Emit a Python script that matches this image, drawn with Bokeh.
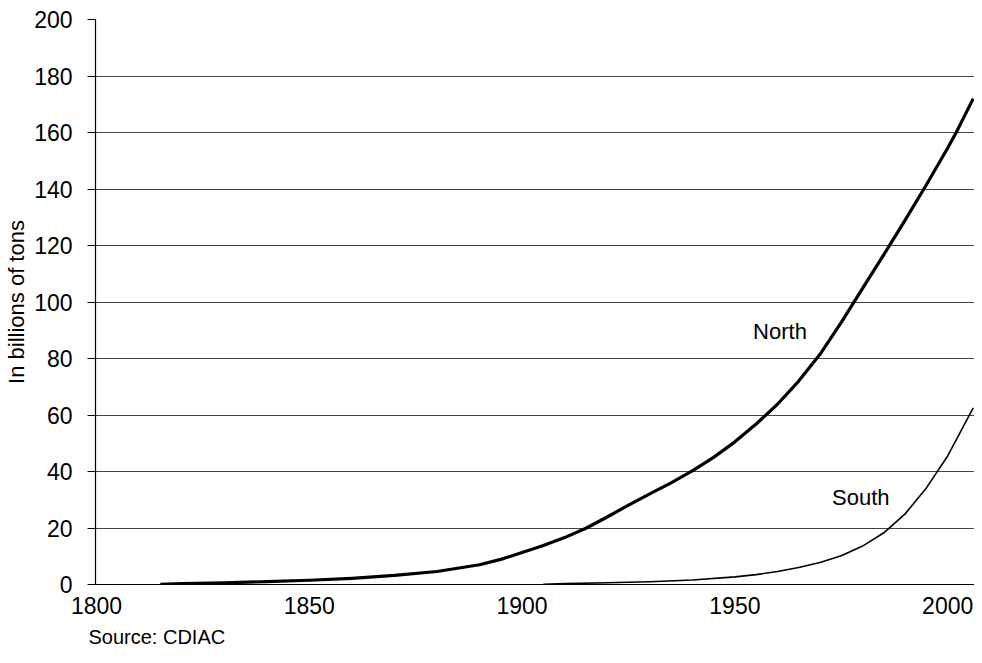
from bokeh.plotting import figure
from bokeh.models import FixedTicker, Label, Range1d, Title
from bokeh.embed import file_html
from bokeh.resources import INLINE

# ---- data ----
north_years = [1815, 1820, 1830, 1840, 1850, 1860, 1870, 1880, 1890, 1895, 1900, 1905,
               1910, 1915, 1920, 1925, 1930, 1935, 1940, 1945, 1950, 1955, 1960,
               1965, 1970, 1975, 1980, 1985, 1990, 1995, 2000, 2002, 2006]
north_values = [0.05, 0.3, 0.6, 1.0, 1.5, 2.2, 3.2, 4.6, 7.0, 8.9, 11.3, 13.8,
                16.6, 19.9, 23.9, 28.1, 32.1, 36.0, 40.2, 45.0, 50.5, 56.8, 63.8,
                72.0, 81.5, 92.8, 104.8, 116.8, 129.0, 141.5, 154.5, 160.0, 172.0]

south_years = [1905, 1910, 1920, 1930, 1940, 1950, 1955, 1960, 1965, 1970, 1975,
               1980, 1985, 1990, 1995, 2000, 2003, 2006]
south_values = [0.05, 0.3, 0.6, 1.0, 1.6, 2.7, 3.5, 4.6, 6.0, 7.8, 10.2,
                13.6, 18.3, 25.0, 34.2, 45.5, 54.0, 62.5]

x_ticks = [1800, 1850, 1900, 1950, 2000]
y_ticks = [0, 20, 40, 60, 80, 100, 120, 140, 160, 180, 200]

series_labels = ["North", "South"]
y_title = "In billions of tons"
source_note = "Source: CDIAC"

FONT = "Liberation Sans"

p = figure(width=974, height=655,
           x_range=Range1d(1799.77, 2006.3), y_range=Range1d(0, 200),
           output_backend="svg", toolbar_location=None,
           min_border_left=95, min_border_right=0,
           min_border_top=19, min_border_bottom=71)

p.outline_line_color = None
p.background_fill_color = "white"
p.border_fill_color = "white"

p.xgrid.visible = False
p.ygrid.ticker = FixedTicker(ticks=y_ticks)
p.ygrid.grid_line_color = "#444444"
p.ygrid.grid_line_width = 1

p.xaxis.ticker = FixedTicker(ticks=x_ticks)
p.yaxis.ticker = FixedTicker(ticks=y_ticks)

for ax in (p.xaxis, p.yaxis):
    ax.axis_line_color = "black"
    ax.axis_line_width = 1.2
    ax.major_tick_in = 0
    ax.minor_tick_in = 0
    ax.minor_tick_out = 0
    ax.major_label_text_font = FONT
    ax.major_label_text_font_size = "23px"
    ax.major_label_text_color = "black"
    ax.major_tick_line_color = "black"

p.xaxis.major_tick_out = 0
p.xaxis.major_label_standoff = 12
p.yaxis.major_tick_out = 8
p.yaxis.major_label_standoff = 15

p.yaxis.axis_label = y_title
p.yaxis.axis_label_text_font = FONT
p.yaxis.axis_label_text_font_size = "22px"
p.yaxis.axis_label_text_font_style = "normal"
p.yaxis.axis_label_text_color = "black"
p.yaxis.axis_label_standoff = 2

p.line(north_years, north_values, line_color="black", line_width=3.2,
       line_join="round")
p.line(south_years, south_values, line_color="black", line_width=1.6,
       line_join="round")

p.add_layout(Label(x=1960.6, y=89.6, text=series_labels[0], text_font=FONT,
                   text_font_size="22px", text_align="center",
                   text_baseline="middle", text_color="black"))
p.add_layout(Label(x=1979.6, y=30.8, text=series_labels[1], text_font=FONT,
                   text_font_size="22px", text_align="center",
                   text_baseline="middle", text_color="black"))

p.add_layout(Title(text=source_note, align="left", offset=-7, standoff=14,
                   text_font=FONT, text_font_size="20px",
                   text_font_style="normal", text_color="black"), "below")

open("out.html", "w").write(file_html(p, INLINE))
